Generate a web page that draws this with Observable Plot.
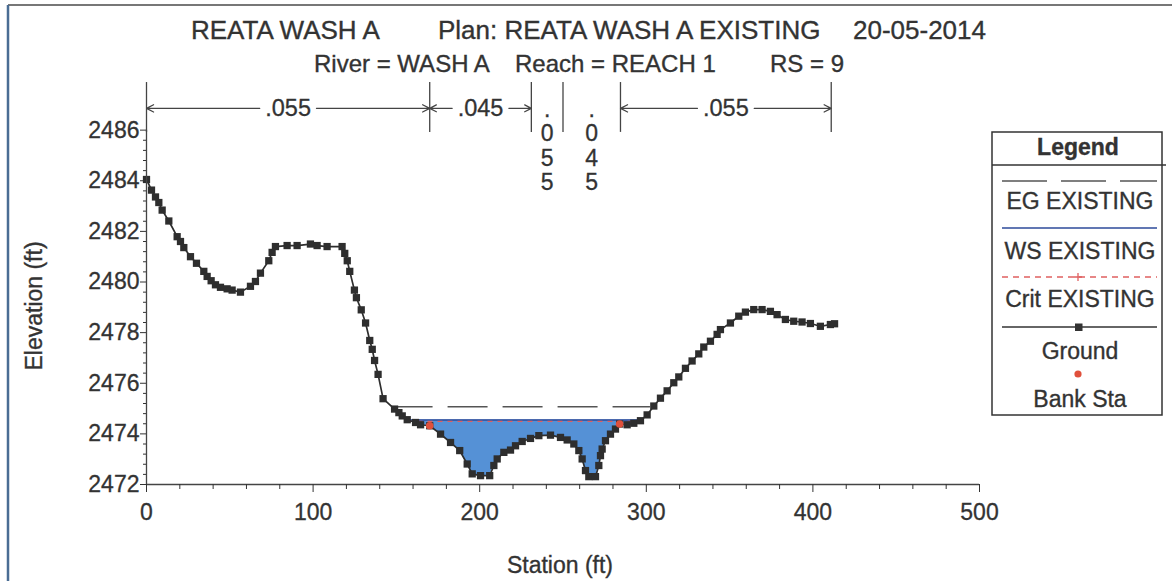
<!DOCTYPE html>
<html><head><meta charset="utf-8">
<script src="https://cdn.jsdelivr.net/npm/d3@7"></script>
<script src="https://cdn.jsdelivr.net/npm/@observablehq/plot@0.6"></script>
<style>
body{margin:0;background:#fff;}
#wrap{position:relative;width:1172px;height:581px;overflow:hidden;background:#fff;font-family:"Liberation Sans",Arial,sans-serif;}
#chart{position:absolute;left:0;top:0;}
#overlay{position:absolute;left:0;top:0;pointer-events:none;}
#overlay text{font-family:"Liberation Sans",Arial,sans-serif;fill:#333;stroke:#333;stroke-width:0.35;}
#chart text{stroke:#333;stroke-width:0.3;}
</style></head>
<body><div id="wrap"><div id="chart"></div>
<svg id="overlay" width="1172" height="581">
  <line x1="8" y1="5" x2="1172" y2="5" stroke="#777" stroke-width="2"/>
  <line x1="8" y1="5" x2="8" y2="581" stroke="#4a6d94" stroke-width="2.5"/>
  <text x="191" y="38.5" font-size="26">REATA WASH A</text>
  <text x="438" y="38.5" font-size="26">Plan: REATA WASH A EXISTING</text>
  <text x="853" y="38.5" font-size="26">20-05-2014</text>
  <text x="314" y="72" font-size="24">River = WASH A</text>
  <text x="515" y="72" font-size="24">Reach = REACH 1</text>
  <text x="770" y="72" font-size="24">RS = 9</text>
  <text x="560" y="573" font-size="23" text-anchor="middle">Station (ft)</text>
  <text transform="translate(42,306) rotate(-90)" font-size="23" text-anchor="middle">Elevation (ft)</text>
  <g id="legend">
    <rect x="992" y="132" width="170" height="283" fill="#fff" stroke="#333" stroke-width="1.5"/>
    <line x1="992" y1="165" x2="1166" y2="165" stroke="#333" stroke-width="1.5"/>
    <text x="1078" y="155" font-size="23" font-weight="bold" text-anchor="middle">Legend</text>
    <line x1="1002" y1="181" x2="1157" y2="181" stroke="#555" stroke-width="1.5" stroke-dasharray="45,14"/>
    <text x="1080" y="208.5" font-size="23" text-anchor="middle">EG EXISTING</text>
    <line x1="1002" y1="228" x2="1157" y2="228" stroke="#2d4a9a" stroke-width="1.5"/>
    <text x="1080" y="258.5" font-size="23" text-anchor="middle">WS EXISTING</text>
    <line x1="1002" y1="277" x2="1157" y2="277" stroke="#e06060" stroke-width="1.3" stroke-dasharray="6,5"/>
    <path d="M1074,277h8M1078,273v8" stroke="#e06060" stroke-width="1.3"/>
    <text x="1080" y="307" font-size="23" text-anchor="middle">Crit EXISTING</text>
    <line x1="1002" y1="327" x2="1157" y2="327" stroke="#333" stroke-width="1.6"/>
    <rect x="1075" y="323.5" width="7.5" height="7.5" fill="#333"/>
    <text x="1080" y="358.5" font-size="23" text-anchor="middle">Ground</text>
    <circle cx="1078" cy="374" r="3.6" fill="#e0503c"/>
    <text x="1080" y="407" font-size="23" text-anchor="middle">Bank Sta</text>
  </g>
</svg>
</div>
<script>
// ---- data ----
const stations = [0,3,5.4,7.4,9.4,13.4,18.4,20.4,22.4,26.4,30,34.4,36.4,38.8,41.4,44.4,48.4,51.4,56.4,62.4,65.4,68.4,73.4,75.4,77.4,84.4,90.4,98.4,102.4,108.4,117.4,119,120.5,122,124.8,126,128.9,131.5,134,135.5,136.9,139,142,148.9,151.5,153.5,156.5,161.5,164.5,170,176.5,182.5,188,192.5,195.5,200.5,206,208.5,210.5,214.5,218.5,221.5,225.5,230.5,235.5,242.5,248.5,252.5,256.5,259.5,261.5,263.5,265.5,269.5,271.5,272.5,273.5,275.5,278.5,281.5,284,288.5,292.5,296.5,300.5,304.5,308.5,312.5,316.5,319.5,323.5,327.5,331.5,334.5,338.5,342.5,344.5,350.5,355.5,359.5,364.5,369.5,374.5,378.5,383.5,388.5,393.5,398.5,404.5,410.5,413];
const elevations = [2484.05,2483.63,2483.36,2483.14,2482.84,2482.41,2481.79,2481.6,2481.36,2481.0,2480.74,2480.42,2480.22,2480.05,2479.89,2479.79,2479.73,2479.68,2479.6,2479.83,2480.02,2480.35,2480.84,2481.17,2481.4,2481.44,2481.44,2481.5,2481.44,2481.4,2481.4,2481.13,2480.84,2480.42,2479.68,2479.38,2478.9,2478.38,2477.69,2477.34,2476.9,2476.35,2475.39,2474.98,2474.84,2474.71,2474.56,2474.45,2474.36,2474.32,2473.99,2473.66,2473.34,2472.81,2472.42,2472.35,2472.35,2472.75,2473.01,2473.27,2473.36,2473.53,2473.7,2473.82,2473.93,2473.95,2473.86,2473.76,2473.6,2473.34,2473.01,2472.55,2472.31,2472.31,2472.75,2473.14,2473.4,2473.73,2473.99,2474.19,2474.39,2474.36,2474.42,2474.52,2474.75,2475.1,2475.41,2475.7,2476.02,2476.25,2476.59,2476.88,2477.16,2477.43,2477.66,2477.93,2478.12,2478.38,2478.65,2478.81,2478.91,2478.91,2478.84,2478.71,2478.52,2478.45,2478.42,2478.36,2478.25,2478.32,2478.35];
const wsElev = 2474.55;
const critElev = 2474.49;
const egElev = 2475.07;
const egRange = [148, 302.5];
const bankStations = [170, 284];
const bankElevs = [2474.32, 2474.39];
const nBreaks = [0, 170, 231, 250, 284.5, 411];
const nValues = [".055", ".045", ".055", ".045", ".055"];
const xTicks = [0, 100, 200, 300, 400, 500];
const yTicks = [2472, 2474, 2476, 2478, 2480, 2482, 2484, 2486];

// ---- derived tables ----
const ground = stations.map((x, i) => ({x, y: elevations[i]}));
const water = [];
for (let i = 0; i < ground.length - 1; i++) {
  const a = ground[i], b = ground[i + 1];
  const aw = a.y < wsElev, bw = b.y < wsElev;
  if (aw) water.push({x: a.x, y1: a.y, y2: wsElev});
  if (aw !== bw) {
    const t = (wsElev - a.y) / (b.y - a.y);
    water.push({x: a.x + t * (b.x - a.x), y1: wsElev, y2: wsElev});
  }
}
const wsL = water[0].x, wsR = water[water.length - 1].x;
const banks = bankStations.map((x, i) => ({x, y: bankElevs[i]}));
const xMinor = d3.range(0, 501, 20).filter(d => d % 100 !== 0);
const yMinor = d3.range(0, 36).map(i => +(2472 + i * 0.4).toFixed(1)).filter(d => d <= 2486 && Math.abs(d % 2) > 0.01);

const nTop = 2487.88, nBot = 2485.91, nArrowY = 2486.86, gap = 17;
const segs = nValues.map((v, i) => ({v, a: nBreaks[i], b: nBreaks[i + 1], m: (nBreaks[i] + nBreaks[i + 1]) / 2}));
const wide = segs.filter(s => s.b - s.a >= 40);
const narrow = segs.filter(s => s.b - s.a < 40);
const arrows = wide.flatMap(s => [
  {x1: s.m - gap, x2: s.a, y: nArrowY},
  {x1: s.m + gap, x2: s.b, y: nArrowY}
]);

const chart = Plot.plot({
  width: 1172, height: 581,
  marginLeft: 146, marginRight: 193, marginTop: 79, marginBottom: 97,
  x: {domain: [0, 500], label: null},
  y: {domain: [2472, 2488], label: null},
  style: {fontFamily: "Liberation Sans, Arial, sans-serif", fontSize: "23px", color: "#333", background: "transparent", overflow: "visible"},
  marks: [
    Plot.areaY(water, {x: "x", y1: "y1", y2: "y2", fill: "#5591d6"}),
    Plot.ruleY([{y: egElev, x1: egRange[0], x2: egRange[1]}], {y: "y", x1: "x1", x2: "x2", stroke: "#555", strokeWidth: 1.4, strokeDasharray: "40,15"}),
    Plot.ruleY([{y: wsElev, x1: wsL, x2: wsR}], {y: "y", x1: "x1", x2: "x2", stroke: "#2d4a9a", strokeWidth: 1.4}),
    Plot.ruleY([{y: critElev, x1: wsL, x2: wsR}], {y: "y", x1: "x1", x2: "x2", stroke: "#e06060", strokeWidth: 1.3, strokeDasharray: "5,5"}),
    Plot.line(ground, {x: "x", y: "y", stroke: "#2e2e2e", strokeWidth: 1.7}),
    Plot.dot(ground, {x: "x", y: "y", symbol: "square", r: 4.1, fill: "#2e2e2e"}),
    Plot.dot(banks, {x: "x", y: "y", r: 3.8, fill: "#e0503c"}),
    // axes
    Plot.ruleY([2472], {x1: 0, x2: 500, stroke: "#444", strokeWidth: 1.3}),
    Plot.ruleX([0], {y1: 2472, y2: 2486, stroke: "#444", strokeWidth: 1.3}),
    Plot.axisX(xTicks, {tickSize: 8, tickPadding: 11, fontSize: 23, tickFormat: d => String(d), label: null}),
    Plot.axisX(xMinor, {tickSize: 5, tickFormat: () => "", label: null}),
    Plot.axisY(yTicks, {tickSize: 6, tickPadding: 1, fontSize: 23, tickFormat: d => String(d), label: null}),
    Plot.axisY(yMinor, {tickSize: 3, tickFormat: () => "", label: null}),
    // Manning's n
    Plot.ruleX(nBreaks, {y1: nBot, y2: nTop, stroke: "#444", strokeWidth: 1.3}),
    Plot.arrow(arrows, {x1: "x1", x2: "x2", y1: "y", y2: "y", stroke: "#444", strokeWidth: 1.2, headLength: 10, headAngle: 55}),
    Plot.text(wide, {x: "m", y: nArrowY, text: "v", fontSize: 23.5, fill: "#333"}),
    Plot.text(narrow, {x: "m", y: 2485.38, text: s => s.v.split("").join("\n"), fontSize: 23, lineHeight: 1.05, fill: "#333"})
  ]
});
document.getElementById("chart").appendChild(chart);
</script>
</body></html>
